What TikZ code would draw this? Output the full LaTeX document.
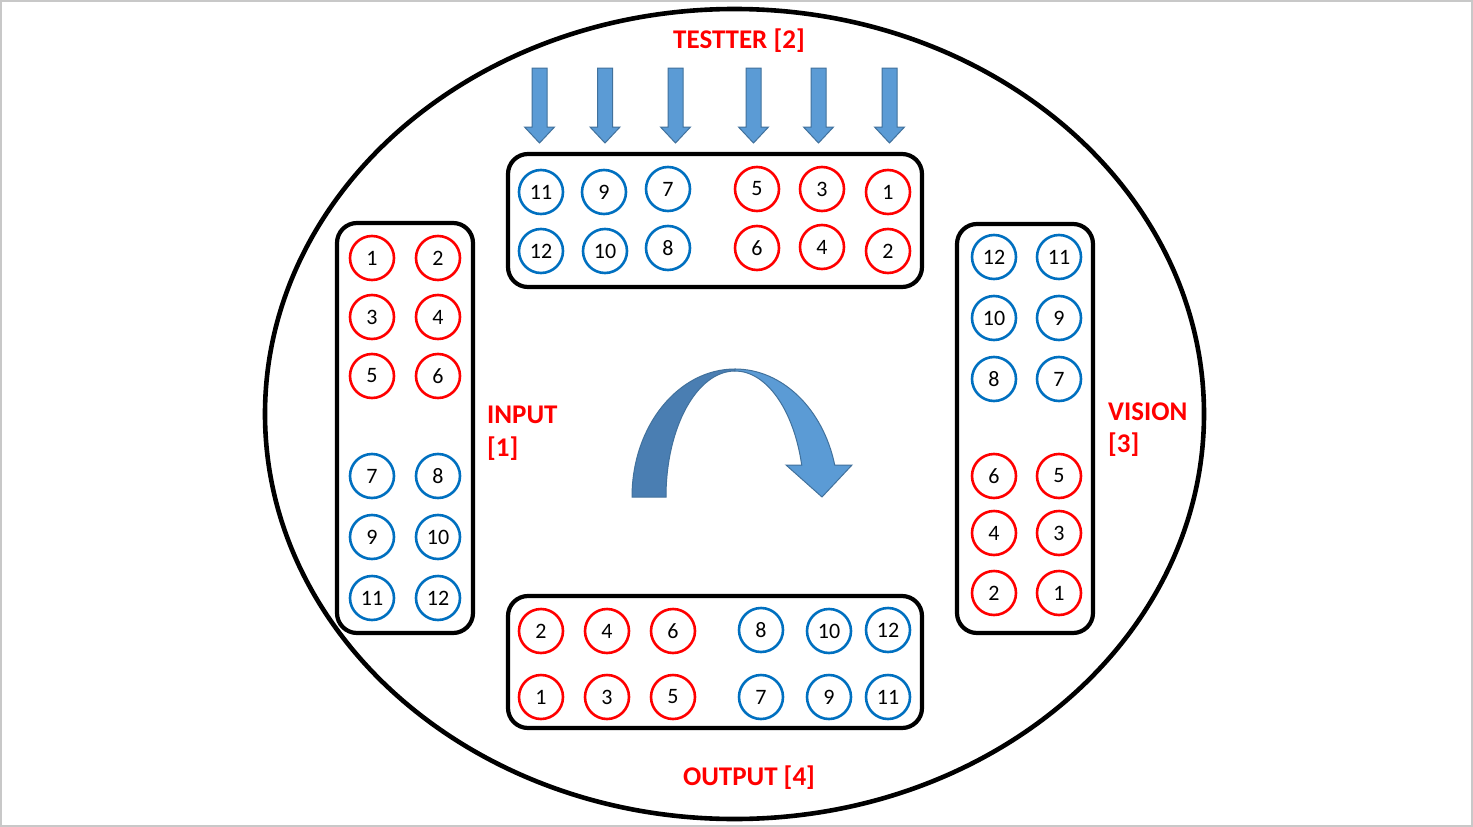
\documentclass[tikz,border=0pt]{standalone}
\usepackage{fontspec}
\setmainfont{Carlito}
\definecolor{redc}{HTML}{FF0000}
\definecolor{bluec}{HTML}{0070C0}
\definecolor{arrfill}{HTML}{5B9BD5}
\definecolor{arrdark}{HTML}{4A7EB2}
\definecolor{arredge}{HTML}{41719C}
\definecolor{pageedge}{HTML}{C8C8C8}
\tikzset{
  pin/.style={circle, draw, line width=2.6pt, minimum size=44pt, inner sep=0pt,
    font=\fontsize{22}{24}\selectfont, text=black},
  rpin/.style={pin, draw=redc},
  bpin/.style={pin, draw=bluec},
  panel/.style={draw=black, line width=4.2pt, rounded corners=20pt},
  lbl/.style={text=redc, font=\fontsize{27}{32}\selectfont\bfseries, inner sep=0pt},
  blockarrow/.style={fill=arrfill, draw=arredge, line width=1pt, line join=miter},
}
\begin{document}
\begin{tikzpicture}[x=1pt,y=1pt]
\useasboundingbox (0,0) rectangle (1473,-827);
\fill[white] (0,0) rectangle (1473,-827);
\draw[pageedge, line width=1.5pt] (1,-1) rectangle (1472,-826);
% outer ellipse
\draw[line width=4.6pt] (734.5,-414) ellipse [x radius=469.5, y radius=405];
% panels
\draw[panel] (508,-154) rectangle (922,-287);
\draw[panel] (337,-223) rectangle (473,-633);
\draw[panel] (957,-224) rectangle (1093,-633);
\draw[panel] (508,-596) rectangle (922,-728);
% tester arrows
\foreach \ax in {539.5,605,675.5,753.5,818.5,889.5}{
  \draw[blockarrow] (\ax-7.5,-68) -- (\ax+7.5,-68) -- (\ax+7.5,-127) -- (\ax+15,-127)
    -- (\ax,-143) -- (\ax-15,-127) -- (\ax-7.5,-127) -- cycle;
}
% labels
\node[lbl] (ltest) at (739,-41) {TESTTER [2]};
\node[lbl] (lout) at (749,-778) {OUTPUT [4]};
\node[lbl, anchor=west] (lin1) at (487,-415) {INPUT};
\node[lbl, anchor=west] (lin2) at (487,-449) {[1]};
\node[lbl, anchor=west] (lvis1) at (1108,-412) {VISION};
\node[lbl, anchor=west] (lvis2) at (1108,-445) {[3]};
% tester pins
\node[bpin] (t11) at (541,-192) {11};
\node[bpin] (t9) at (604,-192) {9};
\node[bpin] (t7) at (668,-189) {7};
\node[rpin] (t5) at (757,-189) {5};
\node[rpin] (t3) at (822,-189) {3};
\node[rpin] (t1) at (888,-192) {1};
\node[bpin] (t12) at (541,-251) {12};
\node[bpin] (t10) at (605,-251) {10};
\node[bpin] (t8) at (668,-248) {8};
\node[rpin] (t6) at (757,-248) {6};
\node[rpin] (t4) at (822,-247) {4};
\node[rpin] (t2) at (888,-251) {2};
% input pins
\node[rpin] (i1) at (372,-258) {1};
\node[rpin] (i2) at (438,-258) {2};
\node[rpin] (i3) at (372,-317) {3};
\node[rpin] (i4) at (438,-317) {4};
\node[rpin] (i5) at (372,-376) {5};
\node[rpin] (i6) at (438,-376) {6};
\node[bpin] (i7) at (372,-476) {7};
\node[bpin] (i8) at (438,-476) {8};
\node[bpin] (i9) at (372,-537) {9};
\node[bpin] (i10) at (438,-537) {10};
\node[bpin] (i11) at (372,-598) {11};
\node[bpin] (i12) at (438,-598) {12};
% vision pins
\node[bpin] (v12) at (994,-257) {12};
\node[bpin] (v11) at (1059,-257) {11};
\node[bpin] (v10) at (994,-318) {10};
\node[bpin] (v9) at (1059,-318) {9};
\node[bpin] (v8) at (994,-379) {8};
\node[bpin] (v7) at (1059,-379) {7};
\node[rpin] (v6) at (994,-476) {6};
\node[rpin] (v5) at (1059,-476) {5};
\node[rpin] (v4) at (994,-533) {4};
\node[rpin] (v3) at (1059,-533) {3};
\node[rpin] (v2) at (994,-593) {2};
\node[rpin] (v1) at (1059,-593) {1};
% output pins
\node[rpin] (o2) at (541,-631) {2};
\node[rpin] (o4) at (607,-631) {4};
\node[rpin] (o6) at (673,-631) {6};
\node[bpin] (o8) at (761,-630) {8};
\node[bpin] (o10) at (829,-631) {10};
\node[bpin] (o12) at (888,-630) {12};
\node[rpin] (o1) at (541,-697) {1};
\node[rpin] (o3) at (607,-697) {3};
\node[rpin] (o5) at (673,-697) {5};
\node[bpin] (o7) at (761,-697) {7};
\node[bpin] (o9) at (829,-697) {9};
\node[bpin] (o11) at (888,-697) {11};
% curved arrow
\draw[fill=arrdark, draw=arredge, line width=1pt]
  (632,-497) arc[start angle=180, end angle=90, x radius=103, y radius=128]
  -- (735,-371) arc[start angle=90, end angle=180, x radius=69, y radius=126] -- cycle;
\draw[fill=arrfill, draw=arredge, line width=1pt, line join=miter]
  (735,-369) arc[start angle=90, end angle=14.48, x radius=103, y radius=128]
  -- (852,-465) -- (822,-497) -- (786,-465) -- (801.7,-465)
  arc[start angle=14.7, end angle=90, x radius=69, y radius=126] -- cycle;
\end{tikzpicture}
\end{document}
